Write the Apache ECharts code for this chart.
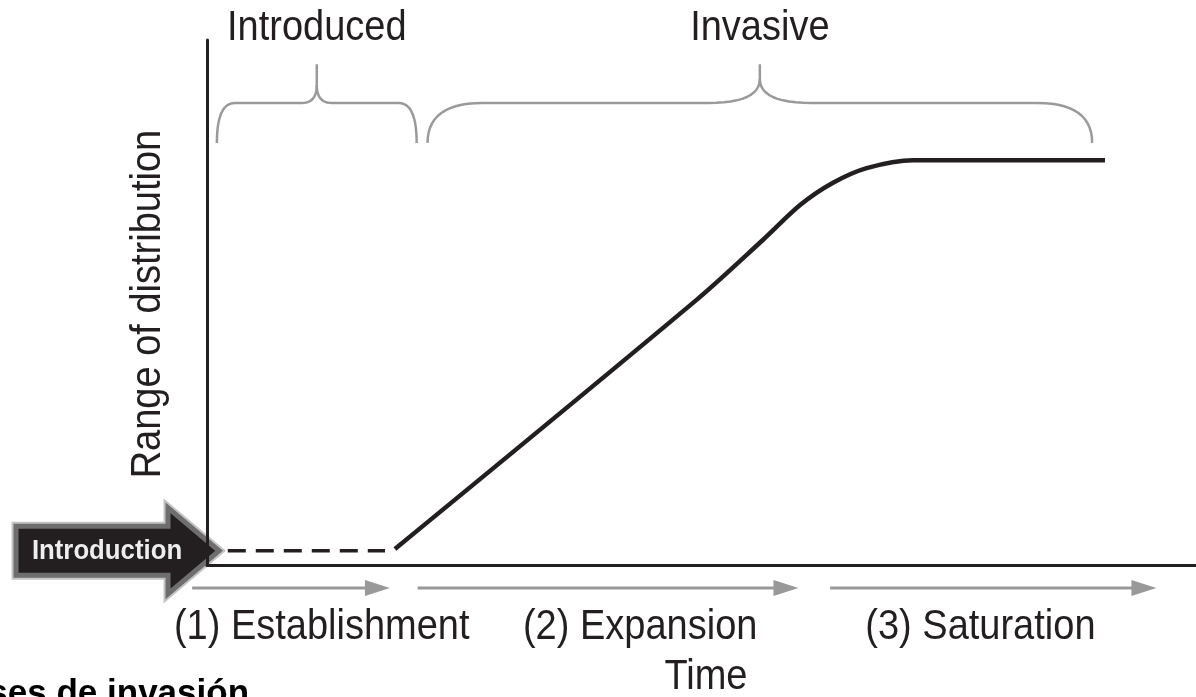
<!DOCTYPE html>
<html>
<head>
<meta charset="utf-8">
<script src="https://cdn.jsdelivr.net/npm/echarts@6/dist/echarts.min.js"></script>
<style>
html,body{margin:0;padding:0;background:#fff;}
#chart{width:1196px;height:697px;}
</style>
</head>
<body>
<div id="chart"></div>
<script>
// ---- data ----
const phases = ['(1) Establishment', '(2) Expansion', '(3) Saturation'];
const phaseArrowStart = [-1.5, 21.3, 63.0];
const phaseArrowEnd = [18.5, 59.8, 96.0];
const stages = ['Introduced', 'Invasive'];
const stageStart = [1.0, 22.3];
const stageEnd = [21.2, 89.5];
const lagTime = [2.1, 18.0];
const lagRange = [2.7, 2.7];
const curveTime = [19.0, 49.5, 56.2, 60.0, 63.3, 66.7, 71.4, 90.8];
const curveRange = [3.05, 50.5, 61.9, 68.6, 72.8, 75.6, 77.1, 77.1];
const xName = 'Time';
const yName = 'Range of distribution';
const eventLabel = 'Introduction';
const titleText = 'Fases de invasión';

// ---- layout (data-space anchors for annotations) ----
const L = {
  phaseLabelX: [11.6, 43.8, 78.2], phaseLabelY: -11.8,
  phaseArrowY: -4.38,
  timeX: 50.45, timeY: -21.3,
  stageLabelY: 102.3,
  braceEndY: 80.4, braceBarY: 88.0, bracePeakY: 95.4,
  yNameX: -5.97, yNameY: 49.7,
  titleX: 4.25, titleY: -24.6
};

const FONT = '"Liberation Sans", Arial, sans-serif';
const INK = '#231f20';

const chart = echarts.init(document.getElementById('chart'), null, {renderer: 'canvas'});

const lag = lagTime.map((t, i) => [t, lagRange[i]]);
const curve = curveTime.map((t, i) => [t, curveRange[i]]);

chart.setOption({
  animation: false,
  backgroundColor: '#ffffff',
  grid: {left: 207, right: 0, top: 40, bottom: 132},
  xAxis: {
    type: 'value', min: 0, max: 100,
    axisLine: {show: true, lineStyle: {color: INK, width: 3}},
    axisTick: {show: false}, axisLabel: {show: false}, splitLine: {show: false}
  },
  yAxis: {
    type: 'value', min: 0, max: 100,
    axisLine: {show: true, lineStyle: {color: INK, width: 3}},
    axisTick: {show: false}, axisLabel: {show: false}, splitLine: {show: false}
  },
  series: [
    {
      type: 'line', data: lag, symbol: 'none', silent: true,
      lineStyle: {color: INK, width: 3.5, type: [18, 10]}
    },
    {
      type: 'line', data: curve, symbol: 'none', silent: true,
      smooth: 0.3,
      lineStyle: {color: INK, width: 4.5, cap: 'butt'}
    }
  ]
});

const px = (x, y) => chart.convertToPixel({gridIndex: 0}, [x, y]);
const graphics = [];

function txt(x, y, text, opts) {
  return Object.assign({
    type: 'text', x: x, y: y, silent: true,
    style: Object.assign({
      text: text, font: '38px ' + FONT, fill: INK,
      textAlign: 'center', textVerticalAlign: 'middle'
    }, opts.style || {})
  }, opts.el || {});
}

// phase arrows + labels
phases.forEach((p, i) => {
  const a = px(phaseArrowStart[i], L.phaseArrowY);
  const b = px(phaseArrowEnd[i], L.phaseArrowY);
  graphics.push({
    type: 'line', silent: true,
    shape: {x1: a[0], y1: a[1], x2: b[0] - 20, y2: b[1]},
    style: {stroke: '#999999', lineWidth: 3}
  });
  graphics.push({
    type: 'polygon', silent: true,
    shape: {points: [[b[0] - 25, b[1] - 8], [b[0], b[1]], [b[0] - 25, b[1] + 8]]},
    style: {fill: '#999999'}
  });
  const l = px(L.phaseLabelX[i], L.phaseLabelY);
  graphics.push(txt(l[0], l[1], p, {el: {scaleY: 1.12}}));
});

// x name
const tp = px(L.timeX, L.timeY);
graphics.push(txt(tp[0], tp[1], xName, {el: {scaleY: 1.12}}));

// y name
const yp = px(L.yNameX, L.yNameY);
graphics.push(txt(yp[0], yp[1], yName, {el: {scaleY: 1.12, rotation: Math.PI / 2}}));

// braces
function quadPts(p0, c, p1, n) {
  const out = [];
  for (let k = 1; k <= n; k++) {
    const t = k / n, u = 1 - t;
    out.push([u * u * p0[0] + 2 * u * t * c[0] + t * t * p1[0], u * u * p0[1] + 2 * u * t * c[1] + t * t * p1[1]]);
  }
  return out;
}
const braceShape = [{rEnd: 18, rPeak: 15, hPeak: 18}, {rEnd: 55, rPeak: 52, hPeak: 24}];
stages.forEach((s, i) => {
  const x1 = px(stageStart[i], 0)[0], x2 = px(stageEnd[i], 0)[0];
  const yE = px(0, L.braceEndY)[1], yB = px(0, L.braceBarY)[1], yP = px(0, L.bracePeakY)[1];
  const cx = (x1 + x2) / 2, sh = braceShape[i];
  let left = [[x1, yE]];
  left = left.concat(quadPts([x1, yE], [x1, yB], [x1 + sh.rEnd, yB], 14));
  left.push([cx - sh.rPeak, yB]);
  left = left.concat(quadPts([cx - sh.rPeak, yB], [cx, yB], [cx, yB - sh.hPeak], 12));
  left.push([cx, yP]);
  let right = [[cx, yB - sh.hPeak]];
  right = right.concat(quadPts([cx, yB - sh.hPeak], [cx, yB], [cx + sh.rPeak, yB], 12));
  right.push([x2 - sh.rEnd, yB]);
  right = right.concat(quadPts([x2 - sh.rEnd, yB], [x2, yB], [x2, yE], 14));
  [left, right].forEach(pts => graphics.push({
    type: 'polyline', silent: true,
    shape: {points: pts},
    style: {stroke: '#9a9a9a', lineWidth: 2.5, fill: null, lineJoin: 'round'}
  }));
  const lp = px(0, L.stageLabelY);
  graphics.push(txt(cx, lp[1], s, {el: {scaleY: 1.12}}));
});

// Introduction arrow
const o = px(0, lagRange[0]);
const tipX = o[0] + 12, tipY = o[1];
const arrowPts = [
  [tipX - 203, tipY - 24.5], [tipX - 51, tipY - 24.5], [tipX - 51, tipY - 43],
  [tipX, tipY], [tipX - 51, tipY + 43], [tipX - 51, tipY + 24.5], [tipX - 203, tipY + 24.5]
];
graphics.push({
  type: 'polygon', silent: true, shape: {points: arrowPts},
  style: {fill: INK, stroke: '#c4c4c4', lineWidth: 9, lineJoin: 'miter'}
});
graphics.push({
  type: 'polygon', silent: true, shape: {points: arrowPts},
  style: {fill: INK, stroke: '#6e6e6e', lineWidth: 5, lineJoin: 'miter'}
});
graphics.push(txt(tipX - 112, tipY, eventLabel, {
  el: {scaleX: 0.92},
  style: {font: 'bold 28px ' + FONT, fill: '#eeeeee'}
}));

// bottom title (cut off by the frame)
const tt = px(L.titleX, L.titleY);
graphics.push(txt(tt[0], tt[1], titleText, {
  style: {font: 'bold 35px ' + FONT, fill: '#000000', textAlign: 'right'}
}));

chart.setOption({graphic: {elements: graphics}});
</script>
</body>
</html>
